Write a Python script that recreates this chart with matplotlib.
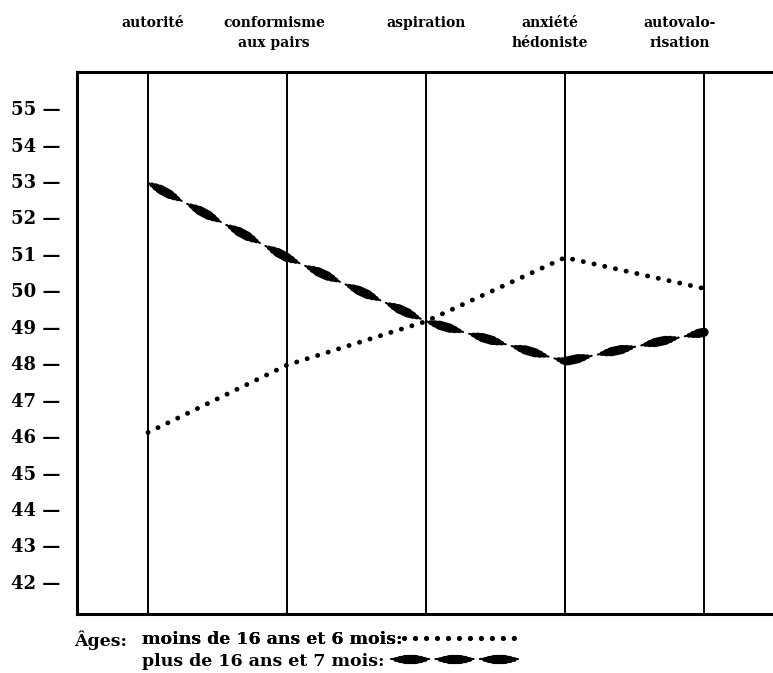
import matplotlib
matplotlib.use("Agg")
import matplotlib.pyplot as plt
from matplotlib.legend_handler import HandlerTuple

plt.rcParams['font.family'] = ['DejaVu Serif']
plt.rcParams['lines.scale_dashes'] = False

categories = ["autorité", "conformisme\naux pairs", "aspiration",
              "anxiété\nhédoniste", "autovalo-\nrisation"]
moins_16_6 = [46.1, 47.95, 49.15, 50.9, 50.05]
plus_16_7 = [52.95, 50.9, 49.15, 48.05, 48.85]
y_ticks = list(range(42, 56))

label_moins = "moins de 16 ans et 6 mois:"
label_plus = "plus de 16 ans et 7 mois:"

x = list(range(len(categories)))

fig = plt.figure(figsize=(7.73, 6.73), dpi=100)
ax = fig.add_axes([77 / 773, 59 / 673, 696 / 773, 542 / 673])
ax.set_xlim(-0.511, 4.496)
ax.set_ylim(41.12, 55.99)

for s in ['left', 'top', 'bottom']:
    ax.spines[s].set_linewidth(2.2)
ax.spines['right'].set_visible(False)

# vertical lines at each category
for xi in x:
    ax.axvline(xi, color='black', lw=1.4, zorder=1)

# dotted series
dots, = ax.plot(x, moins_16_6, color='black', lw=3.5,
                linestyle=(0, (0.1, 7.8)), dash_capstyle='round', zorder=3)

# lens shaped dashes: several overlaid dash layers, thick in the middle
P = 32.0
layers = [(1.5, 27.5), (3.4, 21.5), (5.2, 15.0), (6.6, 8.0)]
dash_lines = []
for lw, on in layers:
    shift = (27.5 - on) / 2
    ln, = ax.plot(x, plus_16_7, color='black', lw=lw,
                  linestyle=((P - shift) % P, (on, P - on)),
                  dash_capstyle='round', zorder=4)
    dash_lines.append(ln)

ax.set_xticks([])
ax.set_yticks(y_ticks)
ax.set_yticklabels([f"{v} —" for v in y_ticks], fontsize=13, fontweight='bold')
ax.tick_params(axis='y', length=0, pad=12)

# category labels above the box
offsets = [3.6, -9.4, 0, -10.8, -17.3]
for xi, lab, off in zip(x, categories, offsets):
    ax.annotate(lab, xy=(xi, 1), xycoords=('data', 'axes fraction'),
                xytext=(off, 40), textcoords='offset points',
                ha='center', va='top', fontsize=10, fontweight='bold',
                linespacing=1.5)

fig.text(74 / 773, 1 - 646 / 673, "Âges:", fontsize=12.5, fontweight='bold',
         va='baseline', ha='left')

leg1 = fig.legend([dots], [label_moins], loc='center left',
                  bbox_to_anchor=(142 / 773, 1 - 640 / 673),
                  frameon=False, markerfirst=False,
                  prop={'size': 12.5, 'weight': 'bold'},
                  handlelength=6.3, handletextpad=0.1,
                  borderpad=0, borderaxespad=0)
leg2 = fig.legend([tuple(dash_lines)], [label_plus],
                  handler_map={tuple: HandlerTuple(ndivide=1)},
                  loc='center left', bbox_to_anchor=(142 / 773, 1 - 661 / 673),
                  frameon=False, markerfirst=False,
                  prop={'size': 12.5, 'weight': 'bold'},
                  handlelength=7.6, handletextpad=0.4,
                  borderpad=0, borderaxespad=0)
fig.add_artist(leg1)

fig.savefig("out.png", dpi=100)
